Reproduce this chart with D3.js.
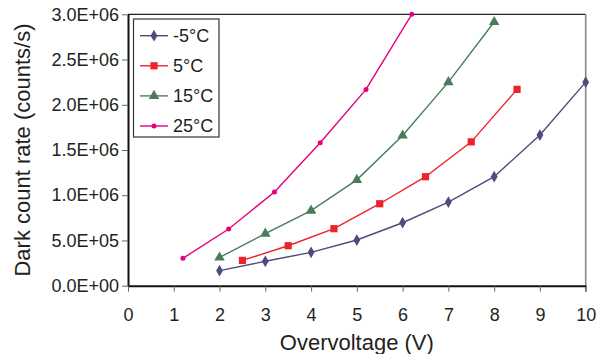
<!DOCTYPE html>
<html>
<head>
<meta charset="utf-8">
<script src="https://cdn.jsdelivr.net/npm/d3@7"></script>
<style>
  html, body { margin: 0; padding: 0; background: #fff; }
  svg { display: block; font-family: "Liberation Sans", Arial, sans-serif; }
</style>
</head>
<body>
<div id="chart"></div>
<script>
// data
const seriesNames = ['-5°C', '5°C', '15°C', '25°C'];
const xCold = [2, 3, 4, 5, 6, 7, 8, 9, 10];
const yCold = [1.66e5, 2.7e5, 3.69e5, 5.05e5, 6.96e5, 9.25e5, 1.205e6, 1.665e6, 2.25e6];
const x5 = [2.5, 3.5, 4.5, 5.5, 6.5, 7.5, 8.5];
const y5 = [2.8e5, 4.42e5, 6.3e5, 9.06e5, 1.205e6, 1.59e6, 2.17e6];
const x15 = [2, 3, 4, 5, 6, 7, 8];
const y15 = [3.12e5, 5.75e5, 8.3e5, 1.17e6, 1.66e6, 2.25e6, 2.915e6];
const x25 = [1.2, 2.2, 3.2, 4.2, 5.2, 6.2];
const y25 = [3.03e5, 6.27e5, 1.036e6, 1.58e6, 2.17e6, 3.0e6];

const xTicks = [0, 1, 2, 3, 4, 5, 6, 7, 8, 9, 10];
const yTicks = [0, 5e5, 1e6, 1.5e6, 2e6, 2.5e6, 3e6];
const yTickLabels = ['0.0E+00', '5.0E+05', '1.0E+06', '1.5E+06', '2.0E+06', '2.5E+06', '3.0E+06'];

const width = 597, height = 354;
const margin = { top: 14.3, right: 11.3, bottom: 68.3, left: 128 };
const textColor = '#231f20';

const series = [
  { name: seriesNames[0], xs: xCold, ys: yCold, color: '#4d4b7f', shape: 'diamond' },
  { name: seriesNames[1], xs: x5, ys: y5, color: '#ee2229', shape: 'square' },
  { name: seriesNames[2], xs: x15, ys: y15, color: '#4a7c5c', shape: 'triangle' },
  { name: seriesNames[3], xs: x25, ys: y25, color: '#e5007d', shape: 'dot' }
];

const svg = d3.select('#chart').append('svg')
  .attr('width', width)
  .attr('height', height);

const x = d3.scaleLinear()
  .domain([0, 10])
  .range([margin.left, width - margin.right]);

const y = d3.scaleLinear()
  .domain([0, 3e6])
  .range([height - margin.bottom, margin.top]);

// plot border (top dark, right grey)
svg.append('line')
  .attr('x1', x(0)).attr('x2', x(10))
  .attr('y1', y(3e6)).attr('y2', y(3e6))
  .attr('stroke', '#222').attr('stroke-width', 1.2);
svg.append('line')
  .attr('x1', x(10)).attr('x2', x(10))
  .attr('y1', y(3e6)).attr('y2', y(0) + 6)
  .attr('stroke', '#888').attr('stroke-width', 1.6);

const xAxis = g => g
  .attr('transform', `translate(0,${y(0)})`)
  .call(d3.axisBottom(x).tickValues(xTicks).tickSize(6).tickPadding(17).tickSizeOuter(0))
  .call(g => g.select('.domain').attr('stroke', '#111').attr('stroke-width', 2))
  .call(g => g.selectAll('.tick line').attr('stroke', '#666').attr('stroke-width', 1))
  .call(g => g.selectAll('text')
    .style('font-size', '18px')
    .style('font-family', '"Liberation Sans", Arial, sans-serif')
    .attr('fill', textColor));

const yAxis = g => g
  .attr('transform', `translate(${x(0)},0)`)
  .call(d3.axisLeft(y).tickValues(yTicks).tickSize(6).tickPadding(3).tickSizeOuter(0)
    .tickFormat((d, i) => yTickLabels[i]))
  .call(g => g.select('.domain').attr('stroke', '#111').attr('stroke-width', 2))
  .call(g => g.selectAll('.tick line').attr('stroke', '#666').attr('stroke-width', 1))
  .call(g => g.selectAll('text')
    .style('font-size', '18px')
    .style('font-family', '"Liberation Sans", Arial, sans-serif')
    .attr('fill', textColor));

svg.append('g').call(xAxis);
svg.append('g').call(yAxis);

// axis titles
svg.append('text')
  .attr('x', (x(0) + x(10)) / 2)
  .attr('y', 350)
  .attr('text-anchor', 'middle')
  .attr('fill', textColor)
  .style('font-size', '22px')
  .text('Overvoltage (V)');

svg.append('text')
  .attr('transform', `translate(30,${(y(0) + y(3e6)) / 2}) rotate(-90)`)
  .attr('text-anchor', 'middle')
  .attr('fill', textColor)
  .style('font-size', '22px')
  .text('Dark count rate (counts/s)');

// marker drawing
function marker(sel, shape, color) {
  if (shape === 'diamond') {
    sel.append('path').attr('d', d3.symbol(d3.symbolDiamond, 40)()).attr('fill', color);
  } else if (shape === 'square') {
    sel.append('path').attr('d', d3.symbol(d3.symbolSquare, 52)()).attr('fill', color);
  } else if (shape === 'triangle') {
    sel.append('path').attr('d', d3.symbol(d3.symbolTriangle, 48)()).attr('fill', color);
  } else {
    sel.append('circle').attr('r', 2.5).attr('fill', color);
  }
}

const line = d3.line()
  .x(d => x(d[0]))
  .y(d => y(d[1]));

series.forEach(s => {
  const pts = s.xs.map((v, i) => [v, s.ys[i]]);
  svg.append('path')
    .datum(pts)
    .attr('fill', 'none')
    .attr('stroke', s.color)
    .attr('stroke-width', 1.4)
    .attr('d', line);
  pts.forEach(p => {
    const g = svg.append('g').attr('transform', `translate(${x(p[0])},${y(p[1])})`);
    marker(g, s.shape, s.color);
  });
});

// legend
const legend = svg.append('g').attr('transform', 'translate(133.5,19)');
legend.append('rect')
  .attr('width', 85.5).attr('height', 118)
  .attr('fill', '#fff')
  .attr('stroke', '#333').attr('stroke-width', 1.2);

series.forEach((s, i) => {
  const row = legend.append('g').attr('transform', `translate(0,${16.7 + i * 30.1})`);
  row.append('line')
    .attr('x1', 6.5).attr('x2', 34.5)
    .attr('stroke', s.color).attr('stroke-width', 1.4);
  const m = row.append('g').attr('transform', 'translate(20.5,0)');
  marker(m, s.shape, s.color);
  row.append('text')
    .attr('x', 39.5).attr('dy', '0.36em')
    .attr('fill', textColor)
    .style('font-size', '18px')
    .text(s.name);
});
</script>
</body>
</html>
